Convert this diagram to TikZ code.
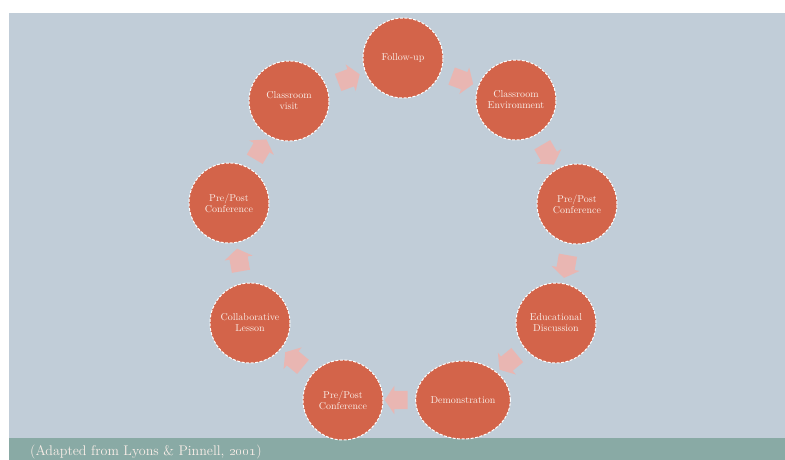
\documentclass[tikz,border=0pt]{standalone}
\usetikzlibrary{shapes.geometric,shapes.arrows}

\definecolor{slate}{RGB}{193,205,216}
\definecolor{brick}{RGB}{211,100,74}
\definecolor{blush}{RGB}{233,182,178}
\definecolor{sage}{RGB}{137,170,165}
\definecolor{cream}{RGB}{250,238,232}

\begin{document}
\begin{tikzpicture}[x=1pt, y=-1pt,
  main/.style = {draw=white, dash pattern=on 3pt off 1.5pt, line width=1pt, fill=brick, circle, minimum size=80pt, inner sep=1pt, align=center, text=cream, font=\fontsize{10}{11}\selectfont},
  flow/.style = {single arrow, fill=blush, draw=none, minimum height=23pt, minimum width=0pt, inner xsep=0pt, inner ysep=9pt, single arrow head extend=5pt, single arrow tip angle=112, sloped, allow upside down}]
\useasboundingbox (0,0) rectangle (785,460);
\fill[slate] (9,13) rectangle (785,460);
\fill[sage] (9,438) rectangle (785,460);
\node[anchor=base west, text=cream, font=\fontsize{14}{16}\selectfont, inner sep=0pt] (src) at (30,455) {(Adapted from Lyons \& Pinnell, \oldstylenums{2001})};

\node[main] (follow) at (403,58) {Follow-up};
\node[main] (env) at (516,100) {Classroom\\Environment};
\node[main] (prepostR) at (577,204) {Pre/Post\\Conference};
\node[main] (disc) at (556,323) {Educational\\Discussion};
\node[main, ellipse, minimum width=90pt, minimum height=78pt] (demo) at (463,400) {Demonstration};
\node[main] (prepostB) at (343,400) {Pre/Post\\Conference};
\node[main] (collab) at (250,323) {Collaborative\\Lesson};
\node[main] (prepostL) at (229,203) {Pre/Post\\Conference};
\node[main] (visit) at (289,101) {Classroom\\visit};

\path (follow) -- (env) node[flow, midway] {};
\path (env) -- (prepostR) node[flow, midway] {};
\path (prepostR) -- (disc) node[flow, midway] {};
\path (disc) -- (demo) node[flow, midway] {};
\path (demo) -- (prepostB) node[flow, midway] {};
\path (prepostB) -- (collab) node[flow, midway] {};
\path (collab) -- (prepostL) node[flow, midway] {};
\path (prepostL) -- (visit) node[flow, midway] {};
\path (visit) -- (follow) node[flow, midway] {};
\end{tikzpicture}
\end{document}
